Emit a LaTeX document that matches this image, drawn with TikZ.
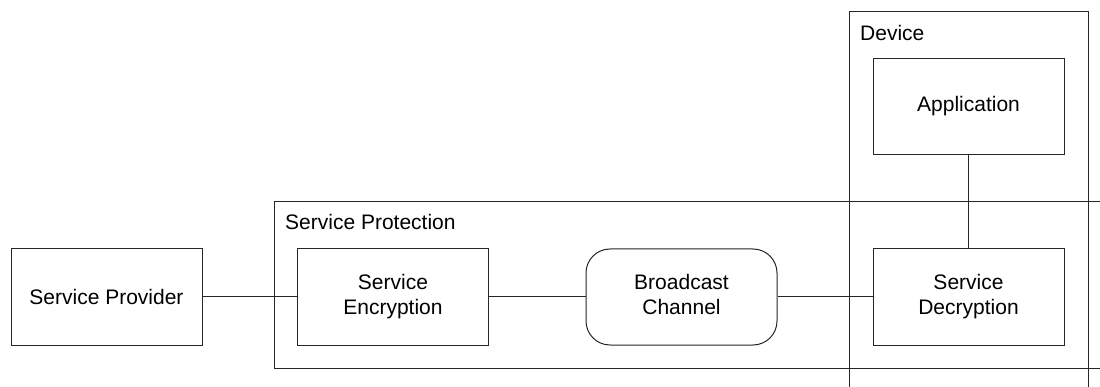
\documentclass[tikz,border=0pt]{standalone}
\usepackage{fontspec}
\setmainfont{Liberation Sans}
\begin{document}
\begin{tikzpicture}[x=1pt,y=-1pt,
  every node/.style={font=\fontsize{21}{25}\selectfont},
  line/.style={draw=black!85, line width=1pt},
  block/.style={line, rectangle, minimum width=191pt, minimum height=96pt, inner sep=0pt, align=center},
  rblock/.style={block, rounded corners=24pt},
  group/.style={line},
  lbl/.style={anchor=north west, inner sep=0pt}
]
\useasboundingbox (0,0) rectangle (1100,387);
\begin{scope}
\clip (0,0) rectangle (1100,387);
% group frames
\draw[group] (274,202) rectangle (1120,368);
\draw[group] (849,12) rectangle (1088,400);
\end{scope}
\node[lbl] (lprot) at (285,214) {Service Protection};
\node[lbl] (ldev) at (860,25) {Device};
% blocks
\node[block] (prov) at (106.5,297) {Service Provider};
\node[block] (enc) at (393,297) {Service\\Encryption};
\node[rblock] (bc) at (681.5,297) {Broadcast\\Channel\vphantom{y}};
\node[block] (dec) at (968.5,297) {Service\\Decryption};
\node[block] (app) at (968.5,106.5) {Application};
% connectors
\draw[line] (prov) -- (enc);
\draw[line] (enc) -- (bc);
\draw[line] (bc) -- (dec);
\draw[line] (app) -- (dec);
\end{tikzpicture}
\end{document}
